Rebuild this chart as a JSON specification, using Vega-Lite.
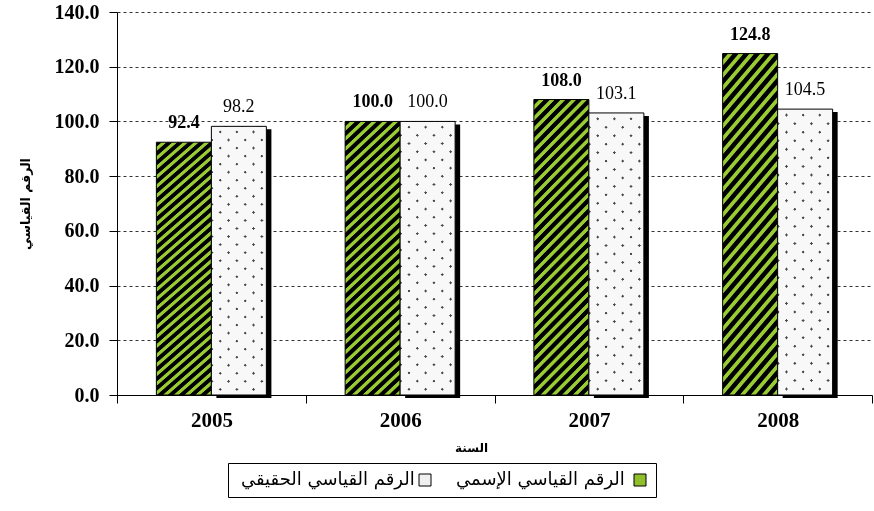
{
  "$schema": "https://vega.github.io/schema/vega-lite/v6.json",
  "width": 755,
  "height": 383,
  "autosize": "none",
  "padding": {"left": 117, "top": 12, "right": 2, "bottom": 116},
  "background": "white",
  "config": {"view": {"stroke": null}},
  "data": {"values": [
    {"year": "2005", "series": "الرقم القياسي الإسمي", "value": 92.4},
    {"year": "2005", "series": "الرقم القياسي الحقيقي", "value": 98.2},
    {"year": "2006", "series": "الرقم القياسي الإسمي", "value": 100.0},
    {"year": "2006", "series": "الرقم القياسي الحقيقي", "value": 100.0},
    {"year": "2007", "series": "الرقم القياسي الإسمي", "value": 108.0},
    {"year": "2007", "series": "الرقم القياسي الحقيقي", "value": 103.1},
    {"year": "2008", "series": "الرقم القياسي الإسمي", "value": 124.8},
    {"year": "2008", "series": "الرقم القياسي الحقيقي", "value": 104.5}
  ]},
  "encoding": {
    "x": {
      "field": "year", "type": "nominal", "title": "السنة",
      "scale": {"paddingInner": 0, "paddingOuter": 0},
      "axis": {
        "labelAngle": 0, "tickBand": "extent", "tickSize": 8, "tickColor": "#000", "domainColor": "#000",
        "labelFont": "Liberation Serif", "labelFontWeight": "bold", "labelFontSize": 21, "labelColor": "#000", "labelPadding": 6,
        "titleFont": "DejaVu Sans", "titleFontWeight": "bold", "titleFontSize": 12, "titleColor": "#000",
        "titleX": 354, "titleY": 52, "titleBaseline": "middle", "titleAlign": "center", "grid": false
      }
    },
    "xOffset": {
      "field": "series", "type": "nominal",
      "sort": ["الرقم القياسي الإسمي", "الرقم القياسي الحقيقي"],
      "scale": {"paddingInner": 0, "paddingOuter": 0.716}
    },
    "y": {
      "field": "value", "type": "quantitative", "title": "الرقم القياسي",
      "scale": {"domain": [0, 140]},
      "axis": {
        "values": [0, 20, 40, 60, 80, 100, 120, 140], "format": ".1f",
        "labelFont": "Liberation Serif", "labelFontWeight": "bold", "labelFontSize": 20, "labelColor": "#000", "labelPadding": 10,
        "tickSize": 8, "tickColor": "#000", "domainColor": "#000",
        "grid": true, "gridColor": "#333", "gridDash": [3, 3], "gridWidth": 1,
        "titleFont": "DejaVu Sans", "titleFontWeight": "bold", "titleFontSize": 12.5, "titleColor": "#000",
        "titleX": -92, "titleY": 191.5, "titleAngle": -90, "titleBaseline": "middle", "titleAlign": "center"
      }
    }
  },
  "layer": [
    {
      "transform": [{"filter": "datum.series === 'الرقم القياسي الحقيقي'"}],
      "mark": {"type": "bar", "fill": "#000", "width": 55, "yOffset": 3, "y2Offset": -3},
      "encoding": {"xOffset": {"value": 126.9}}
    },
    {
      "mark": {"type": "bar", "stroke": "#000", "strokeWidth": 1},
      "encoding": {
        "fill": {
          "condition": {"test": "datum.series === 'الرقم القياسي الحقيقي'", "value":
            {"gradient": "linear", "x1": 0, "y1": 0, "x2": 0.2281, "y2": 1.1527, "stops": [
                {"offset": 0, "color": "#f8f8f8"}, {"offset": 0.038, "color": "#f8f8f8"}, {"offset": 0.041, "color": "#4a4a4a"}, {"offset": 0.047, "color": "#4a4a4a"},
                {"offset": 0.05, "color": "#f8f8f8"}, {"offset": 0.088, "color": "#f8f8f8"}, {"offset": 0.091, "color": "#4a4a4a"}, {"offset": 0.097, "color": "#4a4a4a"},
                {"offset": 0.1, "color": "#f8f8f8"}, {"offset": 0.138, "color": "#f8f8f8"}, {"offset": 0.141, "color": "#4a4a4a"}, {"offset": 0.147, "color": "#4a4a4a"},
                {"offset": 0.15, "color": "#f8f8f8"}, {"offset": 0.188, "color": "#f8f8f8"}, {"offset": 0.191, "color": "#4a4a4a"}, {"offset": 0.197, "color": "#4a4a4a"},
                {"offset": 0.2, "color": "#f8f8f8"}, {"offset": 0.238, "color": "#f8f8f8"}, {"offset": 0.241, "color": "#4a4a4a"}, {"offset": 0.247, "color": "#4a4a4a"},
                {"offset": 0.25, "color": "#f8f8f8"}, {"offset": 0.288, "color": "#f8f8f8"}, {"offset": 0.291, "color": "#4a4a4a"}, {"offset": 0.297, "color": "#4a4a4a"},
                {"offset": 0.3, "color": "#f8f8f8"}, {"offset": 0.338, "color": "#f8f8f8"}, {"offset": 0.341, "color": "#4a4a4a"}, {"offset": 0.347, "color": "#4a4a4a"},
                {"offset": 0.35, "color": "#f8f8f8"}, {"offset": 0.388, "color": "#f8f8f8"}, {"offset": 0.391, "color": "#4a4a4a"}, {"offset": 0.397, "color": "#4a4a4a"},
                {"offset": 0.4, "color": "#f8f8f8"}, {"offset": 0.438, "color": "#f8f8f8"}, {"offset": 0.441, "color": "#4a4a4a"}, {"offset": 0.447, "color": "#4a4a4a"},
                {"offset": 0.45, "color": "#f8f8f8"}, {"offset": 0.488, "color": "#f8f8f8"}, {"offset": 0.491, "color": "#4a4a4a"}, {"offset": 0.497, "color": "#4a4a4a"},
                {"offset": 0.5, "color": "#f8f8f8"}, {"offset": 0.538, "color": "#f8f8f8"}, {"offset": 0.541, "color": "#4a4a4a"}, {"offset": 0.547, "color": "#4a4a4a"},
                {"offset": 0.55, "color": "#f8f8f8"}, {"offset": 0.588, "color": "#f8f8f8"}, {"offset": 0.591, "color": "#4a4a4a"}, {"offset": 0.597, "color": "#4a4a4a"},
                {"offset": 0.6, "color": "#f8f8f8"}, {"offset": 0.638, "color": "#f8f8f8"}, {"offset": 0.641, "color": "#4a4a4a"}, {"offset": 0.647, "color": "#4a4a4a"},
                {"offset": 0.65, "color": "#f8f8f8"}, {"offset": 0.688, "color": "#f8f8f8"}, {"offset": 0.691, "color": "#4a4a4a"}, {"offset": 0.697, "color": "#4a4a4a"},
                {"offset": 0.7, "color": "#f8f8f8"}, {"offset": 0.738, "color": "#f8f8f8"}, {"offset": 0.741, "color": "#4a4a4a"}, {"offset": 0.747, "color": "#4a4a4a"},
                {"offset": 0.75, "color": "#f8f8f8"}, {"offset": 0.788, "color": "#f8f8f8"}, {"offset": 0.791, "color": "#4a4a4a"}, {"offset": 0.797, "color": "#4a4a4a"},
                {"offset": 0.8, "color": "#f8f8f8"}, {"offset": 0.838, "color": "#f8f8f8"}, {"offset": 0.841, "color": "#4a4a4a"}, {"offset": 0.847, "color": "#4a4a4a"},
                {"offset": 0.85, "color": "#f8f8f8"}, {"offset": 0.888, "color": "#f8f8f8"}, {"offset": 0.891, "color": "#4a4a4a"}, {"offset": 0.897, "color": "#4a4a4a"},
                {"offset": 0.9, "color": "#f8f8f8"}, {"offset": 0.938, "color": "#f8f8f8"}, {"offset": 0.941, "color": "#4a4a4a"}, {"offset": 0.947, "color": "#4a4a4a"},
                {"offset": 0.95, "color": "#f8f8f8"}, {"offset": 0.988, "color": "#f8f8f8"}, {"offset": 0.991, "color": "#4a4a4a"}, {"offset": 0.997, "color": "#4a4a4a"},
                {"offset": 1, "color": "#f8f8f8"}
              ]}},
          "value":
              {"gradient": "linear", "x1": 0, "y1": 0, "x2": 0.2178, "y2": 1.148, "stops": [
                {"offset": 0, "color": "#000"}, {"offset": 0.0141, "color": "#000"}, {"offset": 0.0172, "color": "#9c3"}, {"offset": 0.0281, "color": "#9c3"},
                {"offset": 0.0313, "color": "#000"}, {"offset": 0.0454, "color": "#000"}, {"offset": 0.0485, "color": "#9c3"}, {"offset": 0.0594, "color": "#9c3"},
                {"offset": 0.0625, "color": "#000"}, {"offset": 0.0766, "color": "#000"}, {"offset": 0.0797, "color": "#9c3"}, {"offset": 0.0906, "color": "#9c3"},
                {"offset": 0.0938, "color": "#000"}, {"offset": 0.1079, "color": "#000"}, {"offset": 0.111, "color": "#9c3"}, {"offset": 0.1219, "color": "#9c3"},
                {"offset": 0.125, "color": "#000"}, {"offset": 0.1391, "color": "#000"}, {"offset": 0.1422, "color": "#9c3"}, {"offset": 0.1531, "color": "#9c3"},
                {"offset": 0.1563, "color": "#000"}, {"offset": 0.1704, "color": "#000"}, {"offset": 0.1735, "color": "#9c3"}, {"offset": 0.1844, "color": "#9c3"},
                {"offset": 0.1875, "color": "#000"}, {"offset": 0.2016, "color": "#000"}, {"offset": 0.2047, "color": "#9c3"}, {"offset": 0.2156, "color": "#9c3"},
                {"offset": 0.2188, "color": "#000"}, {"offset": 0.2329, "color": "#000"}, {"offset": 0.236, "color": "#9c3"}, {"offset": 0.2469, "color": "#9c3"},
                {"offset": 0.25, "color": "#000"}, {"offset": 0.2641, "color": "#000"}, {"offset": 0.2672, "color": "#9c3"}, {"offset": 0.2781, "color": "#9c3"},
                {"offset": 0.2813, "color": "#000"}, {"offset": 0.2954, "color": "#000"}, {"offset": 0.2985, "color": "#9c3"}, {"offset": 0.3094, "color": "#9c3"},
                {"offset": 0.3125, "color": "#000"}, {"offset": 0.3266, "color": "#000"}, {"offset": 0.3297, "color": "#9c3"}, {"offset": 0.3406, "color": "#9c3"},
                {"offset": 0.3438, "color": "#000"}, {"offset": 0.3579, "color": "#000"}, {"offset": 0.361, "color": "#9c3"}, {"offset": 0.3719, "color": "#9c3"},
                {"offset": 0.375, "color": "#000"}, {"offset": 0.3891, "color": "#000"}, {"offset": 0.3922, "color": "#9c3"}, {"offset": 0.4031, "color": "#9c3"},
                {"offset": 0.4063, "color": "#000"}, {"offset": 0.4204, "color": "#000"}, {"offset": 0.4235, "color": "#9c3"}, {"offset": 0.4344, "color": "#9c3"},
                {"offset": 0.4375, "color": "#000"}, {"offset": 0.4516, "color": "#000"}, {"offset": 0.4547, "color": "#9c3"}, {"offset": 0.4656, "color": "#9c3"},
                {"offset": 0.4688, "color": "#000"}, {"offset": 0.4829, "color": "#000"}, {"offset": 0.486, "color": "#9c3"}, {"offset": 0.4969, "color": "#9c3"},
                {"offset": 0.5, "color": "#000"}, {"offset": 0.5141, "color": "#000"}, {"offset": 0.5172, "color": "#9c3"}, {"offset": 0.5281, "color": "#9c3"},
                {"offset": 0.5313, "color": "#000"}, {"offset": 0.5454, "color": "#000"}, {"offset": 0.5485, "color": "#9c3"}, {"offset": 0.5594, "color": "#9c3"},
                {"offset": 0.5625, "color": "#000"}, {"offset": 0.5766, "color": "#000"}, {"offset": 0.5797, "color": "#9c3"}, {"offset": 0.5906, "color": "#9c3"},
                {"offset": 0.5938, "color": "#000"}, {"offset": 0.6079, "color": "#000"}, {"offset": 0.611, "color": "#9c3"}, {"offset": 0.6219, "color": "#9c3"},
                {"offset": 0.625, "color": "#000"}, {"offset": 0.6391, "color": "#000"}, {"offset": 0.6422, "color": "#9c3"}, {"offset": 0.6531, "color": "#9c3"},
                {"offset": 0.6563, "color": "#000"}, {"offset": 0.6704, "color": "#000"}, {"offset": 0.6735, "color": "#9c3"}, {"offset": 0.6844, "color": "#9c3"},
                {"offset": 0.6875, "color": "#000"}, {"offset": 0.7016, "color": "#000"}, {"offset": 0.7047, "color": "#9c3"}, {"offset": 0.7156, "color": "#9c3"},
                {"offset": 0.7188, "color": "#000"}, {"offset": 0.7329, "color": "#000"}, {"offset": 0.736, "color": "#9c3"}, {"offset": 0.7469, "color": "#9c3"},
                {"offset": 0.75, "color": "#000"}, {"offset": 0.7641, "color": "#000"}, {"offset": 0.7672, "color": "#9c3"}, {"offset": 0.7781, "color": "#9c3"},
                {"offset": 0.7813, "color": "#000"}, {"offset": 0.7954, "color": "#000"}, {"offset": 0.7985, "color": "#9c3"}, {"offset": 0.8094, "color": "#9c3"},
                {"offset": 0.8125, "color": "#000"}, {"offset": 0.8266, "color": "#000"}, {"offset": 0.8297, "color": "#9c3"}, {"offset": 0.8406, "color": "#9c3"},
                {"offset": 0.8438, "color": "#000"}, {"offset": 0.8579, "color": "#000"}, {"offset": 0.861, "color": "#9c3"}, {"offset": 0.8719, "color": "#9c3"},
                {"offset": 0.875, "color": "#000"}, {"offset": 0.8891, "color": "#000"}, {"offset": 0.8922, "color": "#9c3"}, {"offset": 0.9031, "color": "#9c3"},
                {"offset": 0.9063, "color": "#000"}, {"offset": 0.9204, "color": "#000"}, {"offset": 0.9235, "color": "#9c3"}, {"offset": 0.9344, "color": "#9c3"},
                {"offset": 0.9375, "color": "#000"}, {"offset": 0.9516, "color": "#000"}, {"offset": 0.9547, "color": "#9c3"}, {"offset": 0.9656, "color": "#9c3"},
                {"offset": 0.9688, "color": "#000"}, {"offset": 0.9829, "color": "#000"}, {"offset": 0.986, "color": "#9c3"}, {"offset": 0.9969, "color": "#9c3"},
                {"offset": 1, "color": "#000"}
              ]}
        }
      }
    },
    {
      "transform": [{"filter": "datum.series === 'الرقم القياسي الحقيقي'"}],
      "mark": {"type": "bar", "stroke": "#000", "strokeWidth": 1, "blend": "lighten",
        "fill": {"gradient": "linear", "x1": 0, "y1": 1, "x2": 0.2281, "y2": -0.1527, "stops": [
          {"offset": 0, "color": "#f8f8f8"}, {"offset": 0.038, "color": "#f8f8f8"}, {"offset": 0.041, "color": "#4a4a4a"}, {"offset": 0.047, "color": "#4a4a4a"},
          {"offset": 0.05, "color": "#f8f8f8"}, {"offset": 0.088, "color": "#f8f8f8"}, {"offset": 0.091, "color": "#4a4a4a"}, {"offset": 0.097, "color": "#4a4a4a"},
          {"offset": 0.1, "color": "#f8f8f8"}, {"offset": 0.138, "color": "#f8f8f8"}, {"offset": 0.141, "color": "#4a4a4a"}, {"offset": 0.147, "color": "#4a4a4a"},
          {"offset": 0.15, "color": "#f8f8f8"}, {"offset": 0.188, "color": "#f8f8f8"}, {"offset": 0.191, "color": "#4a4a4a"}, {"offset": 0.197, "color": "#4a4a4a"},
          {"offset": 0.2, "color": "#f8f8f8"}, {"offset": 0.238, "color": "#f8f8f8"}, {"offset": 0.241, "color": "#4a4a4a"}, {"offset": 0.247, "color": "#4a4a4a"},
          {"offset": 0.25, "color": "#f8f8f8"}, {"offset": 0.288, "color": "#f8f8f8"}, {"offset": 0.291, "color": "#4a4a4a"}, {"offset": 0.297, "color": "#4a4a4a"},
          {"offset": 0.3, "color": "#f8f8f8"}, {"offset": 0.338, "color": "#f8f8f8"}, {"offset": 0.341, "color": "#4a4a4a"}, {"offset": 0.347, "color": "#4a4a4a"},
          {"offset": 0.35, "color": "#f8f8f8"}, {"offset": 0.388, "color": "#f8f8f8"}, {"offset": 0.391, "color": "#4a4a4a"}, {"offset": 0.397, "color": "#4a4a4a"},
          {"offset": 0.4, "color": "#f8f8f8"}, {"offset": 0.438, "color": "#f8f8f8"}, {"offset": 0.441, "color": "#4a4a4a"}, {"offset": 0.447, "color": "#4a4a4a"},
          {"offset": 0.45, "color": "#f8f8f8"}, {"offset": 0.488, "color": "#f8f8f8"}, {"offset": 0.491, "color": "#4a4a4a"}, {"offset": 0.497, "color": "#4a4a4a"},
          {"offset": 0.5, "color": "#f8f8f8"}, {"offset": 0.538, "color": "#f8f8f8"}, {"offset": 0.541, "color": "#4a4a4a"}, {"offset": 0.547, "color": "#4a4a4a"},
          {"offset": 0.55, "color": "#f8f8f8"}, {"offset": 0.588, "color": "#f8f8f8"}, {"offset": 0.591, "color": "#4a4a4a"}, {"offset": 0.597, "color": "#4a4a4a"},
          {"offset": 0.6, "color": "#f8f8f8"}, {"offset": 0.638, "color": "#f8f8f8"}, {"offset": 0.641, "color": "#4a4a4a"}, {"offset": 0.647, "color": "#4a4a4a"},
          {"offset": 0.65, "color": "#f8f8f8"}, {"offset": 0.688, "color": "#f8f8f8"}, {"offset": 0.691, "color": "#4a4a4a"}, {"offset": 0.697, "color": "#4a4a4a"},
          {"offset": 0.7, "color": "#f8f8f8"}, {"offset": 0.738, "color": "#f8f8f8"}, {"offset": 0.741, "color": "#4a4a4a"}, {"offset": 0.747, "color": "#4a4a4a"},
          {"offset": 0.75, "color": "#f8f8f8"}, {"offset": 0.788, "color": "#f8f8f8"}, {"offset": 0.791, "color": "#4a4a4a"}, {"offset": 0.797, "color": "#4a4a4a"},
          {"offset": 0.8, "color": "#f8f8f8"}, {"offset": 0.838, "color": "#f8f8f8"}, {"offset": 0.841, "color": "#4a4a4a"}, {"offset": 0.847, "color": "#4a4a4a"},
          {"offset": 0.85, "color": "#f8f8f8"}, {"offset": 0.888, "color": "#f8f8f8"}, {"offset": 0.891, "color": "#4a4a4a"}, {"offset": 0.897, "color": "#4a4a4a"},
          {"offset": 0.9, "color": "#f8f8f8"}, {"offset": 0.938, "color": "#f8f8f8"}, {"offset": 0.941, "color": "#4a4a4a"}, {"offset": 0.947, "color": "#4a4a4a"},
          {"offset": 0.95, "color": "#f8f8f8"}, {"offset": 0.988, "color": "#f8f8f8"}, {"offset": 0.991, "color": "#4a4a4a"}, {"offset": 0.997, "color": "#4a4a4a"},
          {"offset": 1, "color": "#f8f8f8"}
        ]}
      }
    },
    {
      "transform": [{"filter": "false"}],
      "mark": {"type": "bar", "stroke": "#000", "strokeWidth": 1},
      "encoding": {
        "fill": {
          "field": "series", "type": "nominal",
          "scale": {"domain": ["الرقم القياسي الحقيقي", "الرقم القياسي الإسمي"], "range": ["#f0f0f0", "#8fbf2a"]},
          "legend": {
            "title": null, "orient": "none", "legendX": 111, "legendY": 451, "direction": "horizontal",
            "symbolType": "square", "symbolSize": 144, "symbolStrokeColor": "#000", "symbolStrokeWidth": 1,
            "labelFont": "DejaVu Sans", "labelFontSize": 18, "labelColor": "#000", "labelLimit": 400,
            "labelAlign": "left", "symbolOffset": 180, "labelOffset": -193, "columnPadding": 18,
            "strokeColor": "#000", "padding": 8
          }
        }
      }
    },
    {
      "transform": [{"filter": "datum.series === 'الرقم القياسي الإسمي'"}],
      "mark": {"type": "text", "font": "Liberation Serif", "fontWeight": "bold", "fontSize": 18, "color": "#000", "baseline": "alphabetic", "dy": -14},
      "encoding": {"text": {"field": "value", "type": "quantitative", "format": ".1f"}}
    },
    {
      "transform": [{"filter": "datum.series === 'الرقم القياسي الحقيقي'"}],
      "mark": {"type": "text", "font": "Liberation Serif", "fontWeight": "normal", "fontSize": 18, "color": "#000", "baseline": "alphabetic", "dy": -14},
      "encoding": {"text": {"field": "value", "type": "quantitative", "format": ".1f"}}
    }
  ]
}
